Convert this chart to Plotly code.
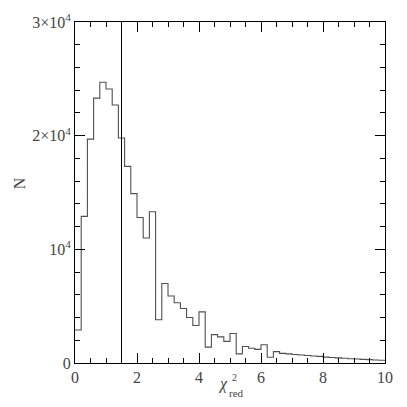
import plotly.graph_objs as go

# histogram of reduced chi^2 (bin width 0.2)
bin_left = [0.0, 0.2, 0.4, 0.6, 0.8, 1.0, 1.2, 1.4, 1.6, 1.8,
            2.0, 2.2, 2.4, 2.6, 2.8, 3.0, 3.2, 3.4, 3.6, 3.8,
            4.0, 4.2, 4.4, 4.6, 4.8, 5.0, 5.2, 5.4, 5.6, 5.8,
            6.0, 6.2, 6.4, 6.6, 6.8, 7.0, 7.2, 7.4, 7.6, 7.8,
            8.0, 8.2, 8.4, 8.6, 8.8, 9.0, 9.2, 9.4, 9.6, 9.8]
counts = [2900, 12900, 19700, 23300, 24700, 24100, 22700, 19800, 17300, 14900,
          12800, 11000, 13300, 3800, 7000, 5900, 5300, 4800, 4000, 3300,
          4500, 1400, 2500, 2300, 1900, 2600, 800, 1450, 1300, 1200,
          1600, 500, 1000, 850, 800, 750, 700, 660, 620, 580,
          520, 480, 450, 420, 380, 350, 320, 300, 270, 240]
bin_right_edge = 10.0
chi2_cut = 1.5

yticks = [0, 10000, 20000, 30000]
ytick_text = ["0", "10<sup>4</sup>", "2×10<sup>4</sup>", "3×10<sup>4</sup>"]
xticks = [0, 2, 4, 6, 8, 10]

xs = bin_left + [bin_right_edge]
ys = counts + [counts[-1]]

fig = go.Figure()
fig.add_trace(go.Scatter(x=xs, y=ys, mode='lines', line_shape='hv',
                         line=dict(color='#505050', width=1.1)))
fig.add_trace(go.Scatter(x=[chi2_cut, chi2_cut], y=[0, 30000], mode='lines',
                         line=dict(color='black', width=1)))

font = dict(family="Liberation Serif, DejaVu Serif, serif", size=16, color='#444')

# page body has an 8px margin, so the figure is a bit smaller than the window
fig.update_layout(
    width=399, height=399,
    margin=dict(l=67, r=22, t=14, b=44, autoexpand=False),
    paper_bgcolor='white', plot_bgcolor='white',
    showlegend=False,
    font=font,
)
fig.update_xaxes(range=[0, 10], tickvals=xticks, ticks='inside', ticklen=10,
                 tickcolor='black', showline=True, linecolor='black', linewidth=1,
                 mirror='allticks', showgrid=False, zeroline=False, automargin=False,
                 minor=dict(dtick=0.5, ticks='inside', ticklen=5, tickcolor='black'))
fig.update_yaxes(range=[0, 30000], tickvals=yticks, ticktext=ytick_text,
                 ticks='inside', ticklen=10, tickcolor='black',
                 showline=True, linecolor='black', linewidth=1,
                 mirror='allticks', showgrid=False, zeroline=False, automargin=False,
                 minor=dict(dtick=2000, ticks='inside', ticklen=5, tickcolor='black'))

# y-axis label
fig.add_annotation(text="N", x=-0.21, y=0.528, xref='paper', yref='paper',
                   showarrow=False, textangle=-90, font=dict(size=16))
# stacked x-axis label: chi, superscript 2, subscript red
fig.add_annotation(text="<i>χ</i>", x=0.477, y=-0.094, xref='paper', yref='paper',
                   showarrow=False, font=dict(size=16))
fig.add_annotation(text="2", x=0.515, y=-0.065, xref='paper', yref='paper',
                   showarrow=False, font=dict(size=10))
fig.add_annotation(text="red", x=0.52, y=-0.11, xref='paper', yref='paper',
                   showarrow=False, font=dict(size=11))

fig.write_html("out.html")
